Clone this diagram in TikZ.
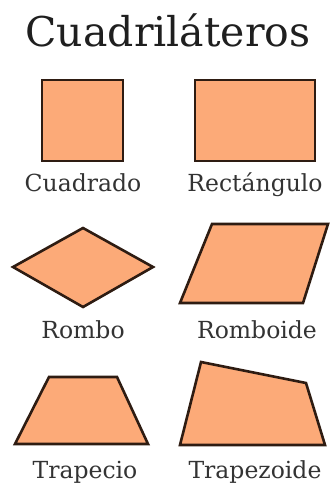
\documentclass[tikz,border=0pt]{standalone}
\usepackage{fontspec}
\setmainfont{DejaVu Serif}
\usepackage{xcolor}
\definecolor{quadfill}{HTML}{FCAA78}
\definecolor{quadline}{HTML}{2E1C12}
\definecolor{lbltext}{HTML}{333333}

\begin{document}
\begin{tikzpicture}[
  x=1pt, y=-1pt,
  quad/.style={fill=quadfill, draw=quadline, line width=2.6pt, line join=miter},
  lbl/.style={anchor=base, inner sep=0pt, text=lbltext, font=\fontsize{23.5}{27}\selectfont},
  ttl/.style={anchor=base, inner sep=0pt, text=black!88, font=\fontsize{41}{47}\selectfont}
]
\useasboundingbox (0,0) rectangle (331,484);
% title
\node[ttl] (title) at (168,47) {Cuadriláteros};
% row 1
\filldraw[quad] (42,80) rectangle (123,161);
\filldraw[quad] (195,80) rectangle (315,161);
\node[lbl] (cua) at (83,191)  {Cuadrado};
\node[lbl] (rec) at (255,191) {Rectángulo};
% row 2
\filldraw[quad] (13,267) -- (83,228) -- (153,267) -- (83,307) -- cycle;
\filldraw[quad] (212,224) -- (328,224) -- (303,303) -- (180,303) -- cycle;
\node[lbl] (rom) at (83,338)  {Rombo};
\node[lbl] (rbd) at (257,338) {Romboide};
% row 3
\filldraw[quad] (15,444) -- (49,377) -- (117,377) -- (148,444) -- cycle;
\filldraw[quad] (180,445) -- (201,362) -- (306,383) -- (325,445) -- cycle;
\node[lbl] (tra) at (85,478)  {Trapecio};
\node[lbl] (tpz) at (255,478) {Trapezoide};
\end{tikzpicture}
\end{document}
